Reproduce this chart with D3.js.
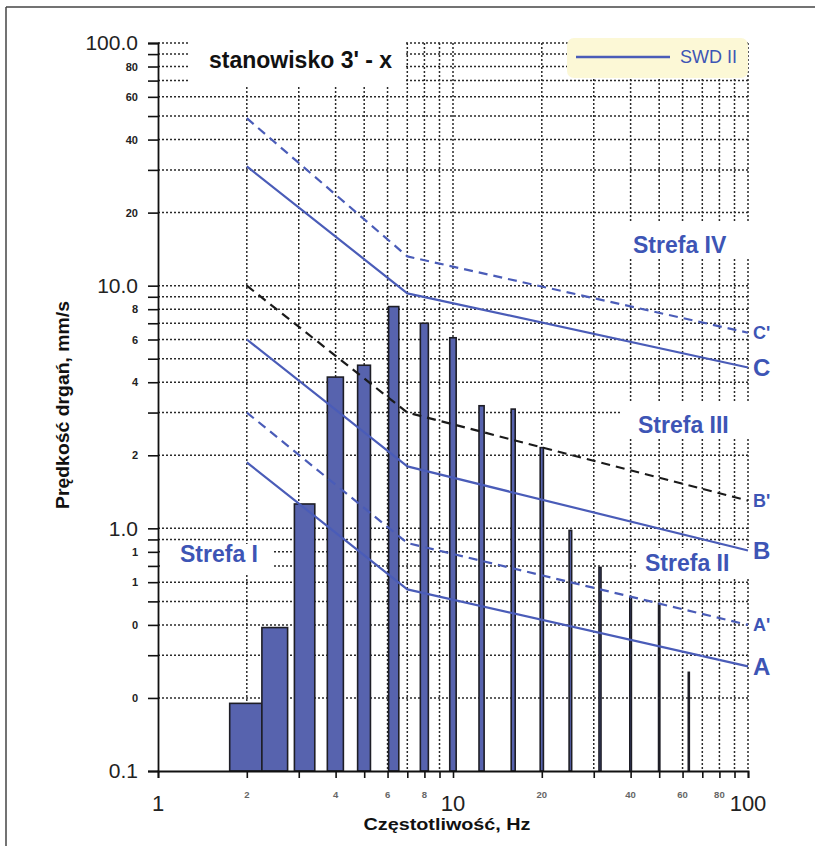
<!DOCTYPE html>
<html>
<head>
<meta charset="utf-8">
<script src="https://cdn.jsdelivr.net/npm/d3@7/dist/d3.min.js"></script>
<style>
  body { margin: 0; background: #fff; }
  text { font-family: "Liberation Sans", Arial, sans-serif; }
</style>
</head>
<body>
<script>
// bars: 1/3-octave band centre frequencies and measured velocities
var bandFreqs = [2, 2.5, 3.15, 4, 5, 6.3, 8, 10, 12.5, 16, 20, 25, 31.5, 40, 50, 63];
var bandVel   = [0.19, 0.39, 1.26, 4.2, 4.7, 8.2, 7.0, 6.1, 3.2, 3.1, 2.15, 0.98, 0.69, 0.52, 0.49, 0.255];

// SWD II limit lines
var limitFreqs = [2, 7, 100];
var lineCp = [49, 13.2, 6.4];
var lineC  = [31, 9.3, 4.6];
var lineBp = [10, 3.0, 1.3];
var lineB  = [6, 1.8, 0.81];
var lineAp = [3.0, 0.87, 0.40];
var lineA  = [1.87, 0.56, 0.27];

var lineNames = ["C'", "C", "B'", "B", "A'", "A"];

// tick labels
var yMajor = [0.1, 1, 10, 100];
var yMajorLabels = ["0.1", "1.0", "10.0", "100.0"];
var yMinor = [0.2, 0.4, 0.6, 0.8, 2, 4, 6, 8, 20, 40, 60, 80];
var yMinorLabels = ["0", "0", "1", "1", "2", "4", "6", "8", "20", "40", "60", "80"];
var xMajor = [1, 10, 100];
var xMajorLabels = ["1", "10", "100"];
var xMinor = [2, 4, 6, 8, 20, 40, 60, 80];
var xMinorLabels = ["2", "4", "6", "8", "20", "40", "60", "80"];

var zones = ["Strefa IV", "Strefa III", "Strefa II", "Strefa I"];

function main() {
    var W = 815, H = 846;
    var blue = "#4a5cb8", blueText = "#3d55b5", dark = "#1e1e26";

    var svg = d3.select("body").append("svg")
        .attr("width", W).attr("height", H);

    // outer frame (top and left only, picture is cropped)
    svg.append("line").attr("x1", 6).attr("x2", W).attr("y1", 7).attr("y2", 7)
        .attr("stroke", "#444").attr("stroke-width", 1.5);
    svg.append("line").attr("x1", 6).attr("x2", 6).attr("y1", 7).attr("y2", H)
        .attr("stroke", "#444").attr("stroke-width", 1.5);

    var x = d3.scaleLog().domain([1, 100]).range([158, 748]);
    var y = d3.scaleLog().domain([0.1, 100]).range([771, 43]);

    // all 1-2-...-9 grid values
    var gridY = [], gridX = [];
    [0.1, 1, 10].forEach(function(d) {
        for (var k = 1; k < 10; k++) gridY.push(+(d * k).toPrecision(3));
    });
    gridY.push(100);
    [1, 10].forEach(function(d) {
        for (var k = 1; k < 10; k++) gridX.push(d * k);
    });
    gridX.push(100);

    var grid = svg.append("g").attr("stroke", "#2a2a2a").attr("stroke-width", 1.5)
        .attr("stroke-dasharray", "2,2");
    grid.selectAll("line.h").data(gridY.filter(function(d) { return d > 0.1; }))
        .enter().append("line").attr("class", "h")
        .attr("x1", x(1)).attr("x2", x(100))
        .attr("y1", function(d) { return y(d); }).attr("y2", function(d) { return y(d); });
    grid.selectAll("line.v").data(gridX.filter(function(d) { return d > 1; }))
        .enter().append("line").attr("class", "v")
        .attr("y1", y(100)).attr("y2", y(0.1))
        .attr("x1", function(d) { return x(d); }).attr("x2", function(d) { return x(d); });

    // white boxes covering grid behind title and zone labels
    var covers = [[190, 34, 214, 51], [615, 222, 135, 36], [622, 402, 128, 36],
                  [638, 548, 112, 31], [160, 544, 113, 30]];
    svg.selectAll("rect.cover").data(covers).enter().append("rect")
        .attr("x", function(d) { return d[0]; }).attr("y", function(d) { return d[1]; })
        .attr("width", function(d) { return d[2]; }).attr("height", function(d) { return d[3]; })
        .attr("fill", "#fff");

    // legend
    svg.append("rect").attr("x", 567).attr("y", 38).attr("width", 181).attr("height", 40)
        .attr("rx", 7).attr("fill", "#fcf8d6");
    svg.append("line").attr("x1", 576).attr("x2", 670).attr("y1", 57).attr("y2", 57)
        .attr("stroke", blue).attr("stroke-width", 2.4);
    svg.append("text").attr("x", 680).attr("y", 63).text("SWD II")
        .attr("font-size", 18).attr("fill", blueText)
        .attr("textLength", 57).attr("lengthAdjust", "spacingAndGlyphs");

    // title
    svg.append("text").attr("x", 209).attr("y", 68).text("stanowisko 3' - x")
        .attr("font-size", 23).attr("font-weight", "bold").attr("fill", "#111");

    // bars (0.5 Hz wide)
    svg.selectAll("rect.bar").data(bandFreqs).enter().append("rect")
        .attr("class", "bar")
        .attr("x", function(d) { return x(d - 0.25); })
        .attr("width", function(d) { return x(d + 0.25) - x(d - 0.25); })
        .attr("y", function(d, i) { return y(bandVel[i]); })
        .attr("height", function(d, i) { return y(0.1) - y(bandVel[i]); })
        .attr("fill", "#5763ae").attr("stroke", dark).attr("stroke-width", 1.6);

    // limit lines
    var series = [
        { v: lineCp, color: blue, dash: "9,6" },
        { v: lineC,  color: blue, dash: null },
        { v: lineBp, color: "#1a1a1a", dash: "9,6" },
        { v: lineB,  color: blue, dash: null },
        { v: lineAp, color: blue, dash: "9,6" },
        { v: lineA,  color: blue, dash: null }
    ];
    var line = d3.line()
        .x(function(d, i) { return x(limitFreqs[i]); })
        .y(function(d) { return y(d); });
    svg.selectAll("path.limit").data(series).enter().append("path")
        .attr("class", "limit")
        .attr("d", function(s) { return line(s.v); })
        .attr("fill", "none")
        .attr("stroke", function(s) { return s.color; })
        .attr("stroke-width", 2.2)
        .attr("stroke-linejoin", "round")
        .attr("stroke-dasharray", function(s) { return s.dash; });

    // line end labels
    svg.selectAll("text.lname").data(series).enter().append("text")
        .attr("x", 753)
        .attr("y", function(s) { return y(s.v[s.v.length - 1]); })
        .attr("dy", "0.36em")
        .text(function(s, i) { return lineNames[i]; })
        .attr("font-size", function(s, i) { return i % 2 ? 24 : 18; })
        .attr("font-weight", "bold").attr("fill", blueText);

    // zone labels
    var zonePos = [[633, 253], [638, 433], [645, 571], [180, 562]];
    svg.selectAll("text.zone").data(zones).enter().append("text")
        .attr("x", function(d, i) { return zonePos[i][0]; })
        .attr("y", function(d, i) { return zonePos[i][1]; })
        .text(function(d) { return d; })
        .attr("font-size", 23).attr("font-weight", "bold").attr("fill", blueText);

    // y axis
    var yAxis = d3.axisLeft(y).tickValues(gridY).tickSize(10).tickPadding(10)
        .tickFormat(function(d) {
            var i = yMajor.indexOf(d);
            if (i >= 0) return yMajorLabels[i];
            var j = yMinor.indexOf(d);
            return j >= 0 ? yMinorLabels[j] : "";
        });
    var gy = svg.append("g").attr("transform", "translate(" + x(1) + ",0)").call(yAxis);
    gy.select(".domain").attr("stroke", "#111").attr("stroke-width", 1.8);
    gy.selectAll(".tick line").attr("stroke", "#111").attr("stroke-width", 1.6);
    gy.selectAll(".tick text").attr("fill", "#222")
        .attr("font-size", function(d) { return yMajor.indexOf(d) >= 0 ? 21 : 11; })
        .attr("font-weight", function(d) { return yMajor.indexOf(d) >= 0 ? "normal" : "bold"; });

    // x axis
    var xAxis = d3.axisBottom(x).tickValues(gridX).tickSize(7).tickFormat("");
    var gx = svg.append("g").attr("transform", "translate(0," + y(0.1) + ")").call(xAxis);
    gx.select(".domain").attr("stroke", "#111").attr("stroke-width", 1.8);
    gx.selectAll(".tick line").attr("stroke", "#111").attr("stroke-width", 1.6);

    svg.selectAll("text.xmaj").data(xMajor).enter().append("text")
        .attr("x", function(d) { return x(d); }).attr("y", 811)
        .attr("text-anchor", "middle").text(function(d, i) { return xMajorLabels[i]; })
        .attr("font-size", 22).attr("fill", "#222");
    svg.selectAll("text.xmin").data(xMinor).enter().append("text")
        .attr("x", function(d) { return x(d); }).attr("y", 798)
        .attr("text-anchor", "middle").text(function(d, i) { return xMinorLabels[i]; })
        .attr("font-size", 9.5).attr("font-weight", "bold").attr("fill", "#666");

    // axis titles
    svg.append("text").attr("x", 447).attr("y", 830).attr("text-anchor", "middle")
        .text("Częstotliwość, Hz").attr("font-size", 17).attr("font-weight", "bold")
        .attr("fill", "#111").attr("textLength", 167).attr("lengthAdjust", "spacingAndGlyphs");
    svg.append("text").attr("transform", "translate(69,405) rotate(-90)")
        .attr("text-anchor", "middle").text("Prędkość drgań, mm/s")
        .attr("font-size", 18).attr("font-weight", "bold").attr("fill", "#111")
        .attr("textLength", 208).attr("lengthAdjust", "spacingAndGlyphs");
}

window.onload = main;
</script>
</body>
</html>
